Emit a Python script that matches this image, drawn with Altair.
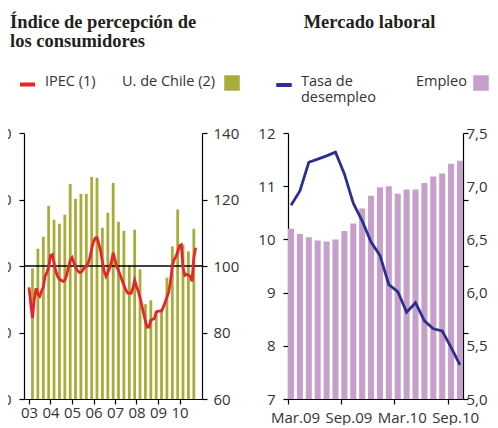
import altair as alt
import pandas as pd

# ---------------- data ----------------
# Left panel: IPEC (monthly, left axis) and U. de Chile index (quarterly, right axis)
ipec_start, ipec_end = "2003-01-01", "2010-10-01"
ipec_values = [
    43.6, 38.5, 34.3, 40.0, 43.3, 41.5, 40.9, 42.4, 43.6, 46.9, 48.1, 49.6,
    53.1, 53.4, 51.0, 48.4, 46.9, 46.0, 45.7, 45.4, 45.7, 47.2, 49.6, 51.6,
    52.5, 51.0, 49.9, 48.7, 48.1, 48.1, 48.7, 49.6, 49.9, 50.8, 52.5, 55.2,
    57.3, 58.4, 58.5, 56.7, 54.6, 51.3, 48.4, 46.9, 48.1, 49.3, 51.3, 54.0,
    51.9, 49.6, 48.7, 47.2, 45.7, 44.2, 43.0, 41.9, 41.8, 41.8, 43.3, 45.7,
    43.9, 42.4, 40.6, 38.2, 35.8, 33.4, 31.6, 31.6, 33.7, 34.0, 34.3, 36.1,
    36.4, 36.4, 36.5, 37.6, 39.1, 40.6, 42.1, 45.4, 50.1, 51.9, 52.8, 54.3,
    56.1, 56.4, 49.6, 47.2, 47.5, 47.2, 46.9, 45.4, 52.5, 55.5,
]
uch_start, uch_end = "2003-03-01", "2010-09-01"
uch_values = [
    99.3, 105.2, 108.8, 118.1, 113.9, 112.7, 115.4, 124.7, 120.2, 121.7,
    121.7, 126.8, 126.5, 111.5, 116.0, 125.0, 113.3, 110.6, 100.2, 110.9,
    99.0, 88.5, 89.7, 86.5, 87.0, 96.5, 105.9, 117.0, 106.4, 104.4, 111.2,
]
left_axis_ticks = [10, 30, 50, 70, 90]
right_axis_ticks = [60, 80, 100, 120, 140]
ref_level = [100]
year_ticks = list(range(2003, 2011))

# Right panel: labour market (monthly)
lab_months = ["Mar.09", "Abr.09", "May.09", "Jun.09", "Jul.09", "Ago.09", "Sep.09",
              "Oct.09", "Nov.09", "Dic.09", "Ene.10", "Feb.10", "Mar.10", "Abr.10",
              "May.10", "Jun.10", "Jul.10", "Ago.10", "Sep.10", "Oct.10"]
desempleo = [10.64, 10.91, 11.45, 11.51, 11.57, 11.64, 11.23, 10.68, 10.35, 9.95,
             9.70, 9.15, 9.02, 8.63, 8.81, 8.47, 8.32, 8.28, 7.97, 7.64]
empleo = [6.60, 6.55, 6.52, 6.49, 6.48, 6.50, 6.58, 6.65, 6.79, 6.91,
          6.99, 7.00, 6.93, 6.97, 6.97, 7.03, 7.09, 7.12, 7.21, 7.24]
month_tick_labels = ["Mar.09", "Sep.09", "Mar.10", "Sep.10"]
desempleo_ticks = [7, 8, 9, 10, 11, 12]
empleo_labels = [5.0, 5.5, 6.0, 6.5, 7.0, 7.5]
empleo_tick_marks = [5.0, 5.625, 6.25, 6.875, 7.5]

# ---------------- style ----------------
SANS = "Open Sans"
SERIF = "Liberation Serif"
TXT = "#333333"
OLIVE = "#A7AD38"
RED = "#E8242B"
BLUE = "#2B2F8E"
PURPLE = "#C6A0CA"

ipec_df = pd.DataFrame({
    "fecha": pd.date_range(ipec_start, ipec_end, freq="MS").strftime("%Y-%m-%dT00:00:00"),
    "valor": ipec_values, "serie": "IPEC (1)"})
uch_df = pd.DataFrame({
    "fecha": pd.date_range(uch_start, uch_end, freq="3MS").strftime("%Y-%m-%dT00:00:00"),
    "valor": uch_values, "serie": "U. de Chile (2)"})
ref_df = pd.DataFrame({"valor": ref_level})
lab_df = pd.DataFrame({"mes": lab_months, "desempleo": desempleo, "empleo": empleo,
                       "s1": "Tasa de desempleo", "s2": "Empleo"})

axis_common = dict(title=None, grid=False, domainColor="black", tickColor="black",
                   domainWidth=1.2, tickWidth=1.2, tickSize=5, labelFont=SANS,
                   labelFontSize=15, labelColor=TXT)
legend_common = dict(orient="none", padding=0, labelFont=SANS, labelFontSize=14,
                     labelColor=TXT, titleFont=SANS, titleFontSize=14.5,
                     titleFontWeight="normal", titleColor=TXT, labelExpr="''",
                     labelOffset=0, titleAnchor="start", titleBaseline="top",
                     titleLineHeight=16)

W_L, W_R, H = 178, 175, 266
LEG_Y = -58
L_MIN, L_MAX = 60, 140
R_MIN, R_MAX = 5, 7.5

x_left = alt.X(
    "fecha:T",
    scale=alt.Scale(domain=[alt.DateTime(year=2003, month=1, date=1),
                            alt.DateTime(year=2010, month=10, date=25)]),
    axis=alt.Axis(format="%y", labelPadding=1,
                  values=[alt.DateTime(year=y, month=1, date=1) for y in year_ticks],
                  **axis_common),
)

bars_l = alt.Chart(uch_df).mark_bar(size=2.8).encode(
    x=x_left,
    y=alt.Y("valor:Q", scale=alt.Scale(domain=[L_MIN, L_MAX], nice=False, zero=False),
            axis=alt.Axis(orient="right", values=right_axis_ticks, labelPadding=6,
                          **axis_common)),
    y2=alt.datum(L_MIN),
    fill=alt.Fill("serie:N", scale=alt.Scale(domain=["U. de Chile (2)"], range=[OLIVE]),
                  legend=alt.Legend(legendX=98, legendY=LEG_Y, title="U. de Chile (2)",
                                    titleOrient="left", titlePadding=8,
                                    symbolType="square", symbolSize=240,
                                    symbolStrokeWidth=0, **legend_common)),
)
rule_l = alt.Chart(ref_df).mark_rule(color="black", strokeWidth=1.3).encode(
    y=alt.Y("valor:Q"))
line_l = alt.Chart(ipec_df).mark_line(strokeWidth=2.8).encode(
    x=x_left,
    y=alt.Y("valor:Q", scale=alt.Scale(domain=[10, 90], nice=False, zero=False),
            axis=alt.Axis(orient="left", values=left_axis_ticks, labelPadding=8,
                          **axis_common)),
    stroke=alt.Stroke("serie:N", scale=alt.Scale(domain=["IPEC (1)"], range=[RED]),
                      legend=alt.Legend(legendX=-6, legendY=LEG_Y, title="IPEC (1)",
                                        titleOrient="right", titlePadding=2,
                                        symbolType="stroke", symbolSize=225,
                                        symbolStrokeWidth=4, **legend_common)),
)

left = alt.layer(alt.layer(bars_l, rule_l), line_l).resolve_scale(
    y="independent").properties(
    width=W_L, height=H,
    title=alt.TitleParams(["Índice de percepción de", "los consumidores"],
                          anchor="start", frame="group", dx=-14, font=SERIF,
                          fontSize=18.5, fontWeight="bold", color="#231f20",
                          lineHeight=18.5, offset=25))

x_right = alt.X(
    "mes:O", sort=lab_months,
    scale=alt.Scale(paddingInner=0.32, paddingOuter=0),
    axis=alt.Axis(values=month_tick_labels, bandPosition=0, labelOffset=4.5,
                  labelAngle=0, labelPadding=6, **axis_common),
)

bars_r = alt.Chart(lab_df).mark_bar().encode(
    x=x_right,
    y=alt.Y("empleo:Q", scale=alt.Scale(domain=[R_MIN, R_MAX], nice=False, zero=False),
            axis=alt.Axis(orient="right", values=empleo_labels, ticks=False,
                          labelPadding=3,
                          labelExpr="replace(format(datum.value, '.1f'), '.', ',')",
                          **axis_common)),
    y2=alt.datum(R_MIN),
    fill=alt.Fill("s2:N", scale=alt.Scale(domain=["Empleo"], range=[PURPLE]),
                  legend=alt.Legend(legendX=128, legendY=LEG_Y, title="Empleo",
                                    titleOrient="left", titlePadding=6,
                                    symbolType="square", symbolSize=240,
                                    symbolStrokeWidth=0, **legend_common)),
)
line_r = alt.Chart(lab_df).mark_line(strokeWidth=2.8).encode(
    x=x_right,
    y=alt.Y("desempleo:Q", scale=alt.Scale(domain=[7, 12], nice=False, zero=False),
            axis=alt.Axis(orient="left", values=desempleo_ticks, labelPadding=8,
                          **axis_common)),
    stroke=alt.Stroke("s1:N", scale=alt.Scale(domain=["Tasa de desempleo"], range=[BLUE]),
                      legend=alt.Legend(legendX=-14, legendY=LEG_Y,
                                        title=["Tasa de", "desempleo"],
                                        titleOrient="right", titlePadding=1,
                                        symbolType="stroke", symbolSize=240,
                                        symbolStrokeWidth=4, **legend_common)),
)
ticks_r = alt.Chart(lab_df).mark_rule(opacity=0).encode(
    y=alt.Y("empleo:Q", scale=alt.Scale(domain=[R_MIN, R_MAX], nice=False, zero=False),
            axis=alt.Axis(orient="right", values=empleo_tick_marks, labels=False,
                          domain=False, title=None, grid=False, tickColor="black",
                          tickWidth=1.2, tickSize=5)),
)

right = alt.layer(bars_r, line_r, ticks_r).resolve_scale(y="independent").properties(
    width=W_R, height=H,
    title=alt.TitleParams("Mercado laboral", anchor="middle", frame="group", dx=-6,
                          font=SERIF, fontSize=18.5, fontWeight="bold",
                          color="#231f20", offset=43.5))

chart = alt.hconcat(left, right, spacing=86, bounds="flush").resolve_scale(
    fill="independent", stroke="independent"
).resolve_legend(
    fill="independent", stroke="independent"
).properties(
    padding={"left": -15, "top": 5, "right": 0, "bottom": 0}
).configure_view(stroke=None)

chart.save("out.html", embed_options={"renderer": "svg", "actions": False})
